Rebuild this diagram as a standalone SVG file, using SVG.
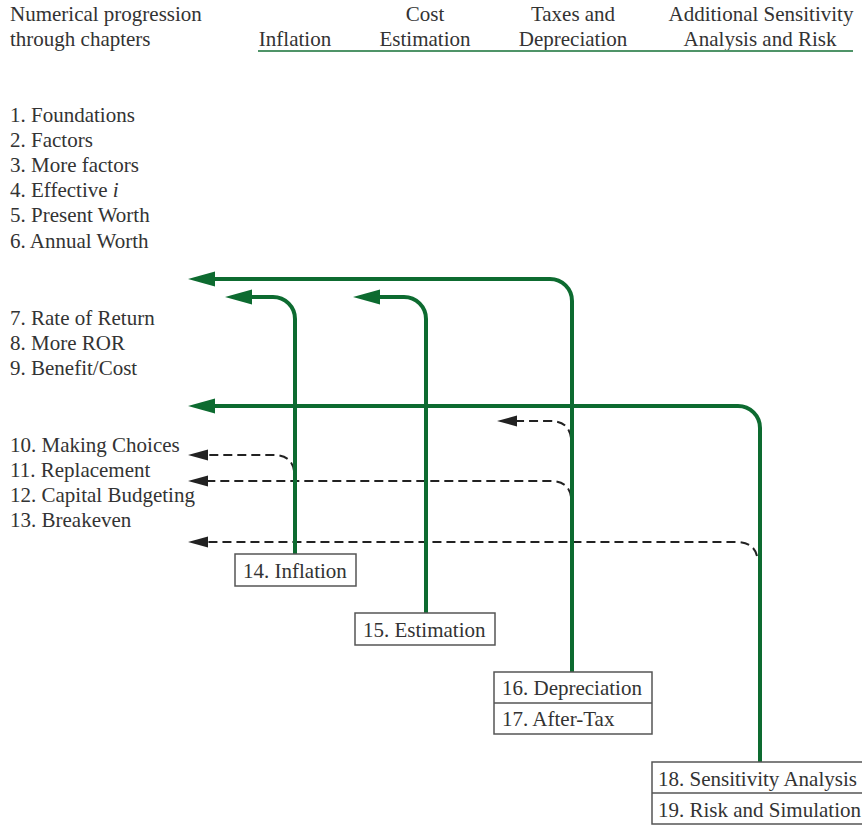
<svg xmlns="http://www.w3.org/2000/svg" width="862" height="826" viewBox="0 0 862 826">
<style>
  text { font-family: "Liberation Serif", "Times New Roman", serif; font-size: 21px; fill: #333; }
  .hdr { text-anchor: middle; }
  .box { fill: #fff; stroke: #555; stroke-width: 1.5; }
  .green { fill: none; stroke: #0d6b30; stroke-width: 4; }
  .dash { fill: none; stroke: #222; stroke-width: 2; stroke-dasharray: 9 5; }
</style>
<defs>
  <marker id="ga" markerUnits="userSpaceOnUse" orient="auto" refX="0" refY="0" overflow="visible">
    <path d="M-12,-7.5 L15,0 L-12,7.5 Z" fill="#0d6b30"/>
  </marker>
  <marker id="da" markerUnits="userSpaceOnUse" orient="auto" refX="0" refY="0" overflow="visible">
    <path d="M-10,-5.5 L10,0 L-10,5.5 Z" fill="#222"/>
  </marker>
</defs>
<rect width="862" height="826" fill="#fff"/>

<g id="header">
  <text x="10" y="21">Numerical progression</text>
  <text x="10" y="46">through chapters</text>
  <text class="hdr" x="295" y="46">Inflation</text>
  <text class="hdr" x="425" y="21">Cost</text>
  <text class="hdr" x="425" y="46">Estimation</text>
  <text class="hdr" x="573" y="21">Taxes and</text>
  <text class="hdr" x="573" y="46">Depreciation</text>
  <text class="hdr" x="761" y="21">Additional Sensitivity</text>
  <text class="hdr" x="760" y="46">Analysis and Risk</text>
  <line x1="258" y1="51" x2="853" y2="51" stroke="#4f9468" stroke-width="2"/>
</g>

<g id="chapters">
  <text x="10" y="122">1. Foundations</text>
  <text x="10" y="147">2. Factors</text>
  <text x="10" y="172">3. More factors</text>
  <text x="10" y="197">4. Effective <tspan font-style="italic">i</tspan></text>
  <text x="10" y="222">5. Present Worth</text>
  <text x="10" y="248">6. Annual Worth</text>
  <text x="10" y="325">7. Rate of Return</text>
  <text x="10" y="350">8. More ROR</text>
  <text x="10" y="375">9. Benefit/Cost</text>
  <text x="10" y="452">10. Making Choices</text>
  <text x="10" y="477">11. Replacement</text>
  <text x="10" y="502">12. Capital Budgeting</text>
  <text x="10" y="527">13. Breakeven</text>
</g>

<g id="connectors">
  <path class="dash" d="M571,438 Q569,421 550,421 L507,421" marker-end="url(#da)"/>
  <path class="dash" d="M571,497 Q569,481 550,481 L198,481" marker-end="url(#da)"/>
  <path class="dash" d="M294,471 Q292,455 273,455 L198,455" marker-end="url(#da)"/>
  <path class="dash" d="M757,556 Q754,542 735,542 L198,542" marker-end="url(#da)"/>
  <path class="green" d="M572,672 L572,301 A22,22 0 0 0 550,279 L203,279" marker-end="url(#ga)"/>
  <path class="green" d="M295,554 L295,319 A22,22 0 0 0 273,297 L240,297" marker-end="url(#ga)"/>
  <path class="green" d="M426,613 L426,319 A22,22 0 0 0 404,297 L368,297" marker-end="url(#ga)"/>
  <path class="green" d="M760,762 L760,428 A22,22 0 0 0 738,406 L203,406" marker-end="url(#ga)"/>
</g>

<g id="node-14">
  <rect class="box" x="235" y="554" width="121" height="32"/>
  <text x="243" y="578">14. Inflation</text>
</g>
<g id="node-15">
  <rect class="box" x="355" y="613" width="140" height="32"/>
  <text x="363" y="637">15. Estimation</text>
</g>
<g id="node-16-17">
  <rect class="box" x="494" y="672" width="158" height="62"/>
  <line x1="494" y1="703" x2="652" y2="703" stroke="#555" stroke-width="1.5"/>
  <text x="502" y="695">16. Depreciation</text>
  <text x="502" y="726">17. After-Tax</text>
</g>
<g id="node-18-19">
  <rect class="box" x="652" y="762" width="220" height="62"/>
  <line x1="652" y1="793" x2="872" y2="793" stroke="#555" stroke-width="1.5"/>
  <text x="658" y="786">18. Sensitivity Analysis</text>
  <text x="658" y="817">19. Risk and Simulation</text>
</g>
</svg>
